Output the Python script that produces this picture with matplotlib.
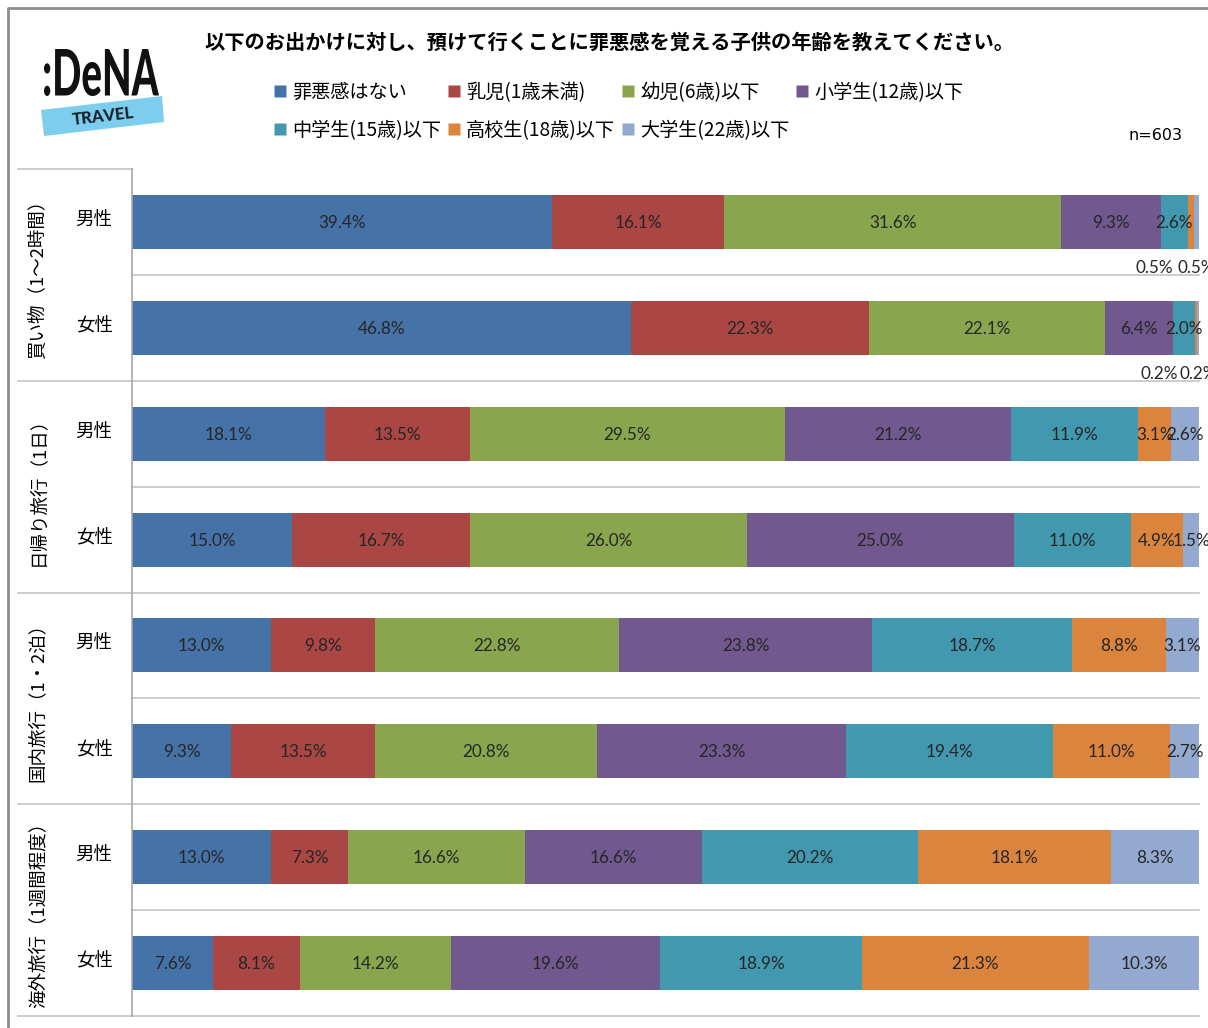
import matplotlib.pyplot as plt
import matplotlib.transforms as mtransforms
from matplotlib.lines import Line2D
from matplotlib.patches import Polygon, PathPatch
from matplotlib.textpath import TextPath
from matplotlib.font_manager import FontProperties
from matplotlib.transforms import Affine2D
import numpy as np

plt.rcParams['font.family'] = ['Noto Sans CJK JP', 'DejaVu Sans']

title = "以下のお出かけに対し、預けて行くことに罪悪感を覚える子供の年齢を教えてください。"
series = ["罪悪感はない", "乳児(1歳未満)", "幼児(6歳)以下", "小学生(12歳)以下",
          "中学生(15歳)以下", "高校生(18歳)以下", "大学生(22歳)以下"]
colors = ['#4572A7', '#AA4643', '#89A54E', '#71588F', '#4198AF', '#DB843D', '#93A9CF']
groups = ["買い物（1～2時間）", "日帰り旅行（1日）", "国内旅行（1・2泊）", "海外旅行（1週間程度）"]
genders = ["男性", "女性"]

# percent per row, in series order
shopping_m = [39.4, 16.1, 31.6, 9.3, 2.6, 0.5, 0.5]
shopping_f = [46.8, 22.3, 22.1, 6.4, 2.0, 0.2, 0.2]
daytrip_m = [18.1, 13.5, 29.5, 21.2, 11.9, 3.1, 2.6]
daytrip_f = [15.0, 16.7, 26.0, 25.0, 11.0, 4.9, 1.5]
domestic_m = [13.0, 9.8, 22.8, 23.8, 18.7, 8.8, 3.1]
domestic_f = [9.3, 13.5, 20.8, 23.3, 19.4, 11.0, 2.7]
abroad_m = [13.0, 7.3, 16.6, 16.6, 20.2, 18.1, 8.3]
abroad_f = [7.6, 8.1, 14.2, 19.6, 18.9, 21.3, 10.3]

rows = np.array([shopping_m, shopping_f, daytrip_m, daytrip_f,
                 domestic_m, domestic_f, abroad_m, abroad_f])
shares = rows / rows.sum(axis=1, keepdims=True) * 100

W, H = 1208, 1028
fig = plt.figure(figsize=(W / 100, H / 100), dpi=100)

# background layer in pixel coordinates for frame, title, logo
bg = fig.add_axes([0, 0, 1, 1], zorder=0)
bg.set_xlim(0, W)
bg.set_ylim(H, 0)
bg.axis('off')
bg.plot([8, 8, W], [H, 8, 8], color='#8c8c8c', lw=2, solid_capstyle='butt')

bg.text(609, 42, title, fontsize=14.6, fontweight='bold', ha='center', va='center')
bg.text(1183, 135, "n=603", fontsize=11.5, family='DejaVu Sans', ha='right', va='center')

# logo
bg.add_patch(Polygon([(41, 110), (162, 96), (164, 122), (44, 136)], closed=True,
                     facecolor='#7DCDEE', edgecolor='none'))
bg.text(103, 116, "TRAVEL", fontsize=12, fontweight='black', family='Lato',
        color='#16202b', rotation=6.6, ha='center', va='center')
tp = TextPath((0, 0), ":DeNA", size=1, prop=FontProperties(family='Lato', weight='black'))
bb = tp.get_extents()
sx = 115 / bb.width
sy = 47 / bb.height
tr = Affine2D().translate(-bb.x0, -bb.y0).scale(sx, -sy).translate(44, 96)
bg.add_patch(PathPatch(tr.transform_path(tp), facecolor='#111111', edgecolor='none'))

# main bar axes
ax = fig.add_axes([132 / W, 1 - 1016 / H, 1067 / W, 847 / H], zorder=1)
ax.patch.set_alpha(0)
ax.set_xlim(0, 100)
ax.set_ylim(7.5, -0.5)

y = np.arange(len(rows))
left = np.zeros(len(rows))
for j, (name, col) in enumerate(zip(series, colors)):
    ax.barh(y, shares[:, j], left=left, height=0.51, color=col, edgecolor='none', label=name)
    for i in range(len(rows)):
        v = rows[i, j]
        cx = left[i] + shares[i, j] / 2
        if v >= 1:
            ax.text(cx, i + 0.01, f"{v:.1f}%", ha='center', va='center', fontsize=12.3,
                    family='Lato', color='#262626', clip_on=False)
        else:
            dx = -37 if j == 5 else 0
            ax.annotate(f"{v:.1f}%", (cx, i + 0.435), xytext=(dx, 0),
                        textcoords='offset pixels', ha='center', va='center',
                        fontsize=12.3, family='Lato', color='#262626',
                        annotation_clip=False)
    left += shares[:, j]

# grid / separators
blend = mtransforms.blended_transform_factory(ax.transAxes, ax.transData)
xl = (18 - 132) / 1067
gc = '#c4c4c4'
ax.plot([xl, 0], [-0.5, -0.5], transform=blend, color=gc, lw=1.2, clip_on=False)
for k in range(len(rows)):
    b = k + 0.5
    x0 = xl if k % 2 == 1 else 0
    ax.plot([x0, 1], [b, b], transform=blend, color=gc, lw=1.2, clip_on=False, zorder=0)

for s in ['top', 'right', 'bottom']:
    ax.spines[s].set_visible(False)
ax.spines['left'].set_color('#a8a8a8')
ax.spines['left'].set_linewidth(1.2)
ax.set_xticks([])
ax.set_yticks(y - 0.04)
ax.set_yticklabels(genders * len(groups), fontsize=13.3)
ax.tick_params(axis='y', length=0, pad=14)

for g, name in enumerate(groups):
    ax.text(-0.088, 2 * g + 0.5, name, transform=blend, rotation=90,
            ha='center', va='center', fontsize=13.3)

# legend, reordered so column-major fill reads row by row
handles = [Line2D([], [], marker='s', linestyle='none', markersize=9,
                  markerfacecolor=c, markeredgecolor='none') for c in colors]
order = [0, 4, 1, 5, 2, 6, 3]
fig.legend([handles[i] for i in order], [series[i] for i in order],
           loc='upper left', bbox_to_anchor=(273 / W, 1 - 82 / H), ncol=4,
           frameon=False, fontsize=13.8, handlelength=0.7, handletextpad=0.3,
           columnspacing=0.3, labelspacing=0.88, borderpad=0, borderaxespad=0)

fig.savefig('out.png', dpi=100)
